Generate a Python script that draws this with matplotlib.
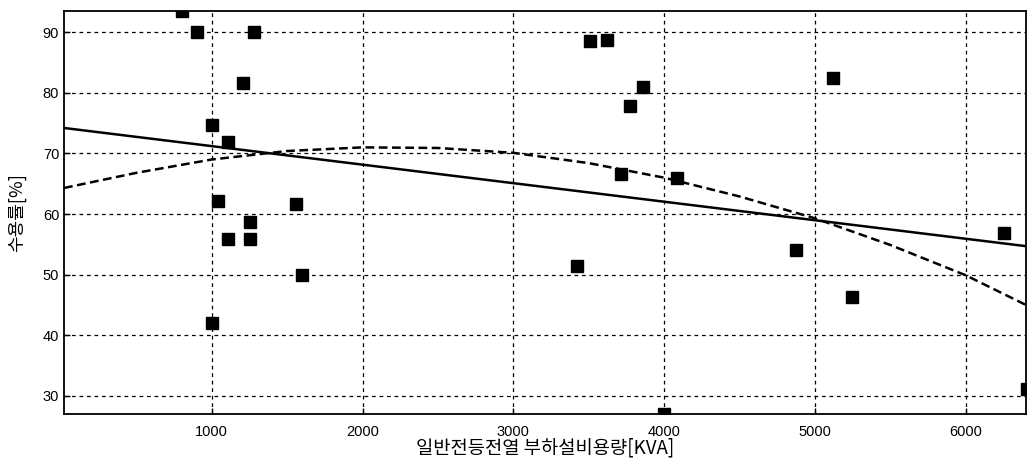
import matplotlib
matplotlib.use("Agg")
import matplotlib.pyplot as plt
import numpy as np

# Scatter data
load_kva = [801, 900, 1003, 1106, 1042, 1206, 1278, 1252, 1561, 1108, 1252, 1000, 1601,
            3511, 3621, 3858, 3776, 3714, 4084, 3422, 4000, 4873, 5121, 5247, 6252, 6405]
demand_pct = [93.5, 90.0, 74.7, 71.9, 62.1, 81.6, 90.0, 58.7, 61.6, 55.8, 55.8, 42.0, 49.9,
              88.6, 88.7, 81.0, 77.8, 66.6, 66.0, 51.4, 27.0, 54.1, 82.4, 46.3, 56.8, 31.2]

# Linear trend line (end points)
lin_x = [20, 6400]
lin_y = [74.2, 54.7]

# Dashed polynomial trend
poly_x = [20, 500, 1000, 1500, 2000, 2500, 3000, 3500, 4000, 4500, 5000, 5500, 6000, 6400]
poly_y = [64.3, 66.8, 69.0, 70.4, 71.0, 70.9, 70.1, 68.4, 66.0, 62.9, 59.3, 54.9, 49.9, 45.0]

x_ticks = [1000, 2000, 3000, 4000, 5000, 6000]
y_ticks = [30, 40, 50, 60, 70, 80, 90]

plt.rcParams['font.family'] = ['Liberation Sans', 'Noto Sans CJK KR', 'DejaVu Sans']

fig = plt.figure(figsize=(10.28, 4.59), dpi=100)
ax = fig.add_axes([0.0623, 0.098, 0.9357, 0.878])

ax.plot(lin_x, lin_y, color='black', lw=1.8, solid_capstyle='butt', zorder=3)
ax.plot(poly_x, poly_y, color='black', lw=1.8, ls=(0, (3.5, 1.8)), zorder=3)
ax.plot(load_kva, demand_pct, ls='none', marker='s', ms=8.5, color='black', zorder=4,
        clip_on=True)

ax.set_xlim(20, 6400)
ax.set_ylim(27, 93.5)
ax.set_xticks(x_ticks)
ax.set_yticks(y_ticks)
ax.grid(True, color='black', ls=(0, (3, 3)), lw=0.9)
ax.tick_params(direction='in', length=4, width=1, labelsize=10.5, colors='black')
ax.tick_params(axis='x', pad=8)
for s in ax.spines.values():
    s.set_linewidth(1.3)
    s.set_color('black')

ax.set_xlabel('일반전등전열 부하설비용량[KVA]', fontsize=13.5, family=['Noto Sans CJK KR', 'DejaVu Sans'],
              labelpad=-1)
ax.set_ylabel('수용률[%]', fontsize=13, family=['Noto Sans CJK KR', 'DejaVu Sans'], labelpad=12)

fig.savefig('out.png', dpi=100)
